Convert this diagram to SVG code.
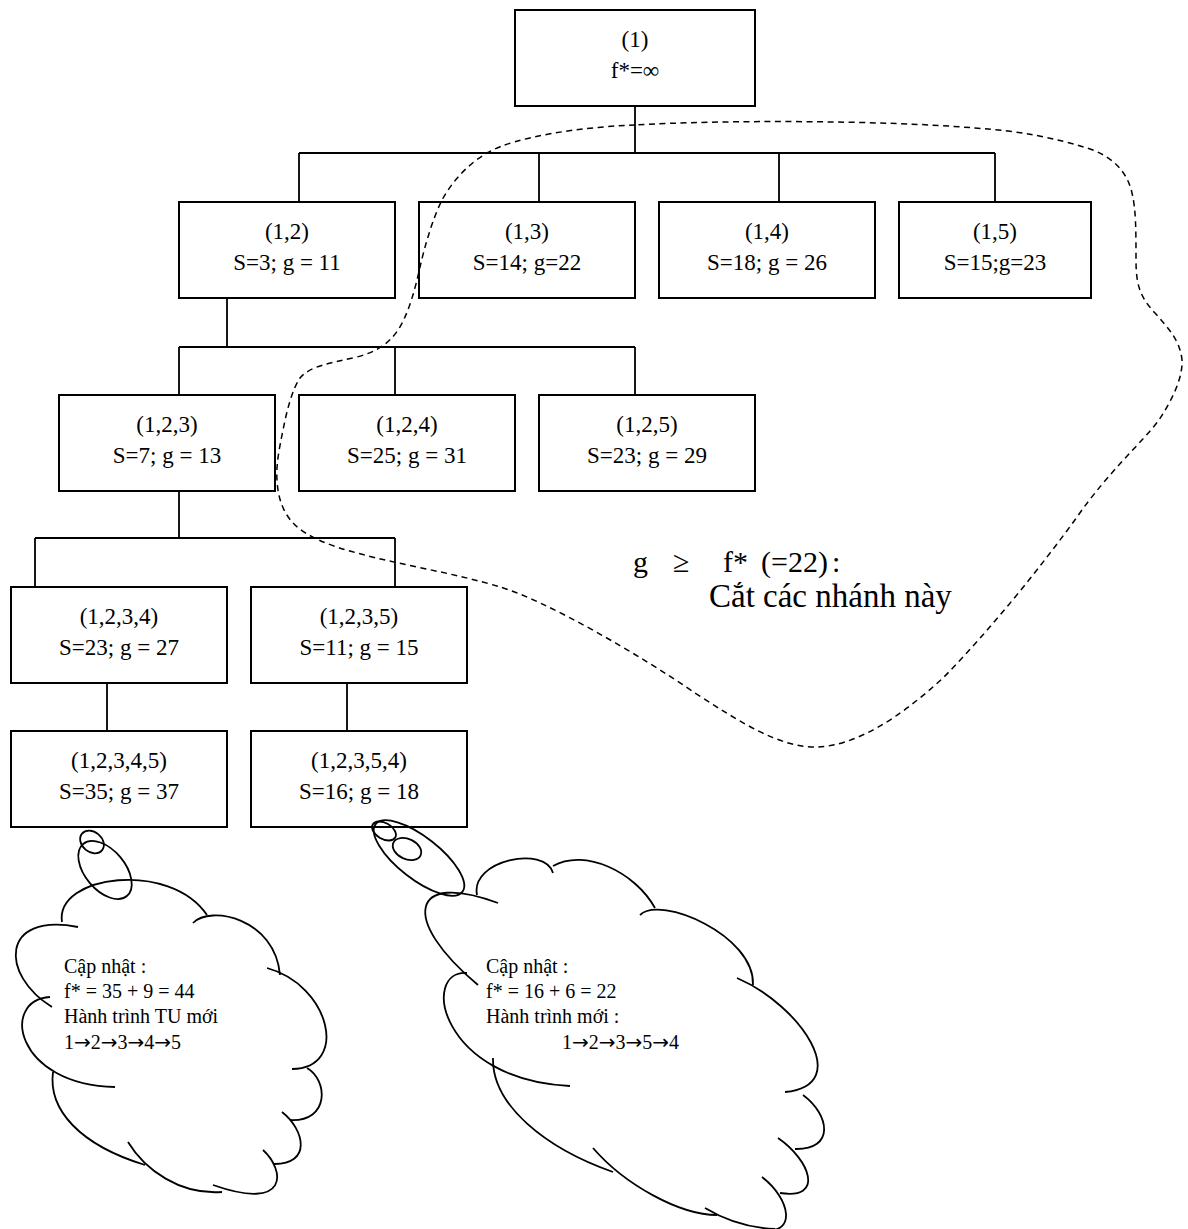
<svg xmlns="http://www.w3.org/2000/svg" width="1188" height="1229" viewBox="0 0 1188 1229">
<style>
text{font-family:"Liberation Serif",serif;fill:#000;stroke:none}
.box{fill:#fff;stroke:#000;stroke-width:2}
.nt{font-size:23px;text-anchor:middle}
.ct{font-size:20px}
.ar{font-family:"DejaVu Sans",sans-serif}
.conn{fill:none;stroke:#000;stroke-width:1.8}
.dash{fill:none;stroke:#000;stroke-width:1.5;stroke-dasharray:6 4.5}
.cl{fill:none;stroke:#000;stroke-width:1.8}
</style>
<rect width="1188" height="1229" fill="#fff"/>
<g id="connectors" class="conn">
<path d="M635 106V153M299 153H995M299 153V202M539 153V202M779 153V202M995 153V202"/>
<path d="M227 298V347M179 347H635M179 347V395M395 347V395M635 347V395"/>
<path d="M179 491V538M35 538H395M35 538V587M395 538V587"/>
<path d="M107 683V731M347 683V731"/>
</g>
<g id="n1" font-family="Liberation Serif, serif"><rect class="box" x="515" y="10" width="240" height="96"/><text class="nt" x="635" y="47">(1)</text><text class="nt" x="635" y="78">f*=∞</text></g>
<g id="n12" font-family="Liberation Serif, serif"><rect class="box" x="179" y="202" width="216" height="96"/><text class="nt" x="287" y="239">(1,2)</text><text class="nt" x="287" y="270">S=3; g = 11</text></g>
<g id="n13" font-family="Liberation Serif, serif"><rect class="box" x="419" y="202" width="216" height="96"/><text class="nt" x="527" y="239">(1,3)</text><text class="nt" x="527" y="270">S=14; g=22</text></g>
<g id="n14" font-family="Liberation Serif, serif"><rect class="box" x="659" y="202" width="216" height="96"/><text class="nt" x="767" y="239">(1,4)</text><text class="nt" x="767" y="270">S=18; g = 26</text></g>
<g id="n15" font-family="Liberation Serif, serif"><rect class="box" x="899" y="202" width="192" height="96"/><text class="nt" x="995" y="239">(1,5)</text><text class="nt" x="995" y="270">S=15;g=23</text></g>
<g id="n123" font-family="Liberation Serif, serif"><rect class="box" x="59" y="395" width="216" height="96"/><text class="nt" x="167" y="432">(1,2,3)</text><text class="nt" x="167" y="463">S=7; g = 13</text></g>
<g id="n124" font-family="Liberation Serif, serif"><rect class="box" x="299" y="395" width="216" height="96"/><text class="nt" x="407" y="432">(1,2,4)</text><text class="nt" x="407" y="463">S=25; g = 31</text></g>
<g id="n125" font-family="Liberation Serif, serif"><rect class="box" x="539" y="395" width="216" height="96"/><text class="nt" x="647" y="432">(1,2,5)</text><text class="nt" x="647" y="463">S=23; g = 29</text></g>
<g id="n1234" font-family="Liberation Serif, serif"><rect class="box" x="11" y="587" width="216" height="96"/><text class="nt" x="119" y="624">(1,2,3,4)</text><text class="nt" x="119" y="655">S=23; g = 27</text></g>
<g id="n1235" font-family="Liberation Serif, serif"><rect class="box" x="251" y="587" width="216" height="96"/><text class="nt" x="359" y="624">(1,2,3,5)</text><text class="nt" x="359" y="655">S=11; g = 15</text></g>
<g id="n12345" font-family="Liberation Serif, serif"><rect class="box" x="11" y="731" width="216" height="96"/><text class="nt" x="119" y="768">(1,2,3,4,5)</text><text class="nt" x="119" y="799">S=35; g = 37</text></g>
<g id="n12354" font-family="Liberation Serif, serif"><rect class="box" x="251" y="731" width="216" height="96"/><text class="nt" x="359" y="768">(1,2,3,5,4)</text><text class="nt" x="359" y="799">S=16; g = 18</text></g>
<g id="prune">
<path class="dash" d="M635 125C580 127 515 137 489 152C470 162 453 180 442 200C433 218 425 245 420 267C415 290 408 315 398 330C388 345 375 352 357 357C330 363 310 366 300 378C292 390 287 410 283 430C279 450 276 465 277 480C278 500 284 513 293 523C305 536 330 546 357 553C400 565 455 573 500 587C545 600 640 655 695 693C740 722 780 748 817 747C855 746 900 718 944 677C990 630 1040 568 1077 517C1110 470 1140 445 1159 420C1172 400 1183 378 1182 360C1180 340 1168 328 1155 313C1140 297 1136 285 1136 260C1136 230 1136 210 1132 193C1127 170 1110 155 1087 148C1055 138 1020 131 975 128C880 120 720 120 635 125Z"/>
<text font-family="Liberation Serif, serif" font-size="30" y="572"><tspan x="633">g</tspan><tspan x="673">≥</tspan><tspan x="723">f*</tspan><tspan x="761">(=22)</tspan><tspan x="832">:</tspan></text>
<text font-family="Liberation Serif, serif" font-size="33" x="709" y="607">Cắt các nhánh này</text>
</g>
<g id="cloud1">
<g class="cl">
<ellipse cx="92" cy="842" rx="13" ry="10" transform="rotate(40 92 842)"/>
<ellipse cx="105" cy="870" rx="34" ry="20" transform="rotate(50 105 870)"/>
<path d="M62 922C55 875 170 860 207 915"/>
<path d="M193 923C210 905 275 918 280 975"/>
<path d="M267 968C330 985 350 1068 292 1069"/>
<path d="M307 1068C328 1080 330 1122 290 1120"/>
<path d="M282 1112C305 1130 312 1165 273 1164"/>
<path d="M263 1150C285 1170 290 1212 213 1185"/>
<path d="M128 1142C145 1170 180 1195 222 1192"/>
<path d="M53 1072C48 1110 80 1145 145 1165"/>
<path d="M50 997C0 1000 15 1085 115 1087"/>
<path d="M52 1007C0 975 0 912 78 927"/>
</g>
<g font-family="Liberation Serif, serif">
<text class="ct" x="64" y="973">Cập nhật :</text>
<text class="ct" x="64" y="998">f* = 35 + 9 = 44</text>
<text class="ct" x="64" y="1023">Hành trình TU mới</text>
<text class="ct" x="64" y="1049">1<tspan class="ar">→</tspan>2<tspan class="ar">→</tspan>3<tspan class="ar">→</tspan>4<tspan class="ar">→</tspan>5</text>
</g>
</g>
<g id="cloud2">
<g class="cl">
<ellipse cx="419" cy="858" rx="55" ry="21" transform="rotate(38 419 858)"/>
<ellipse cx="384" cy="831" rx="13" ry="8" transform="rotate(30 384 831)"/>
<ellipse cx="407" cy="849" rx="15" ry="10" transform="rotate(25 407 849)"/>
<path d="M478 985C400 920 410 870 498 903"/>
<path d="M477 895C470 860 545 845 553 873"/>
<path d="M553 866C585 848 635 872 655 908"/>
<path d="M640 915C660 895 755 935 753 985"/>
<path d="M737 978C800 1005 855 1085 785 1092"/>
<path d="M803 1095C830 1115 835 1150 795 1149"/>
<path d="M778 1138C810 1160 825 1200 780 1193"/>
<path d="M762 1177C792 1200 795 1235 765 1229"/>
<path d="M705 1208C725 1220 750 1228 775 1229"/>
<path d="M493 1058C492 1105 545 1148 613 1172"/>
<path d="M593 1148C625 1185 680 1215 717 1215"/>
<path d="M467 973C420 970 440 1080 570 1086"/>
</g>
<g font-family="Liberation Serif, serif">
<text class="ct" x="486" y="973">Cập nhật :</text>
<text class="ct" x="486" y="998">f* = 16 + 6 = 22</text>
<text class="ct" x="486" y="1023">Hành trình mới :</text>
<text class="ct" x="562" y="1049">1<tspan class="ar">→</tspan>2<tspan class="ar">→</tspan>3<tspan class="ar">→</tspan>5<tspan class="ar">→</tspan>4</text>
</g>
</g>
</svg>
